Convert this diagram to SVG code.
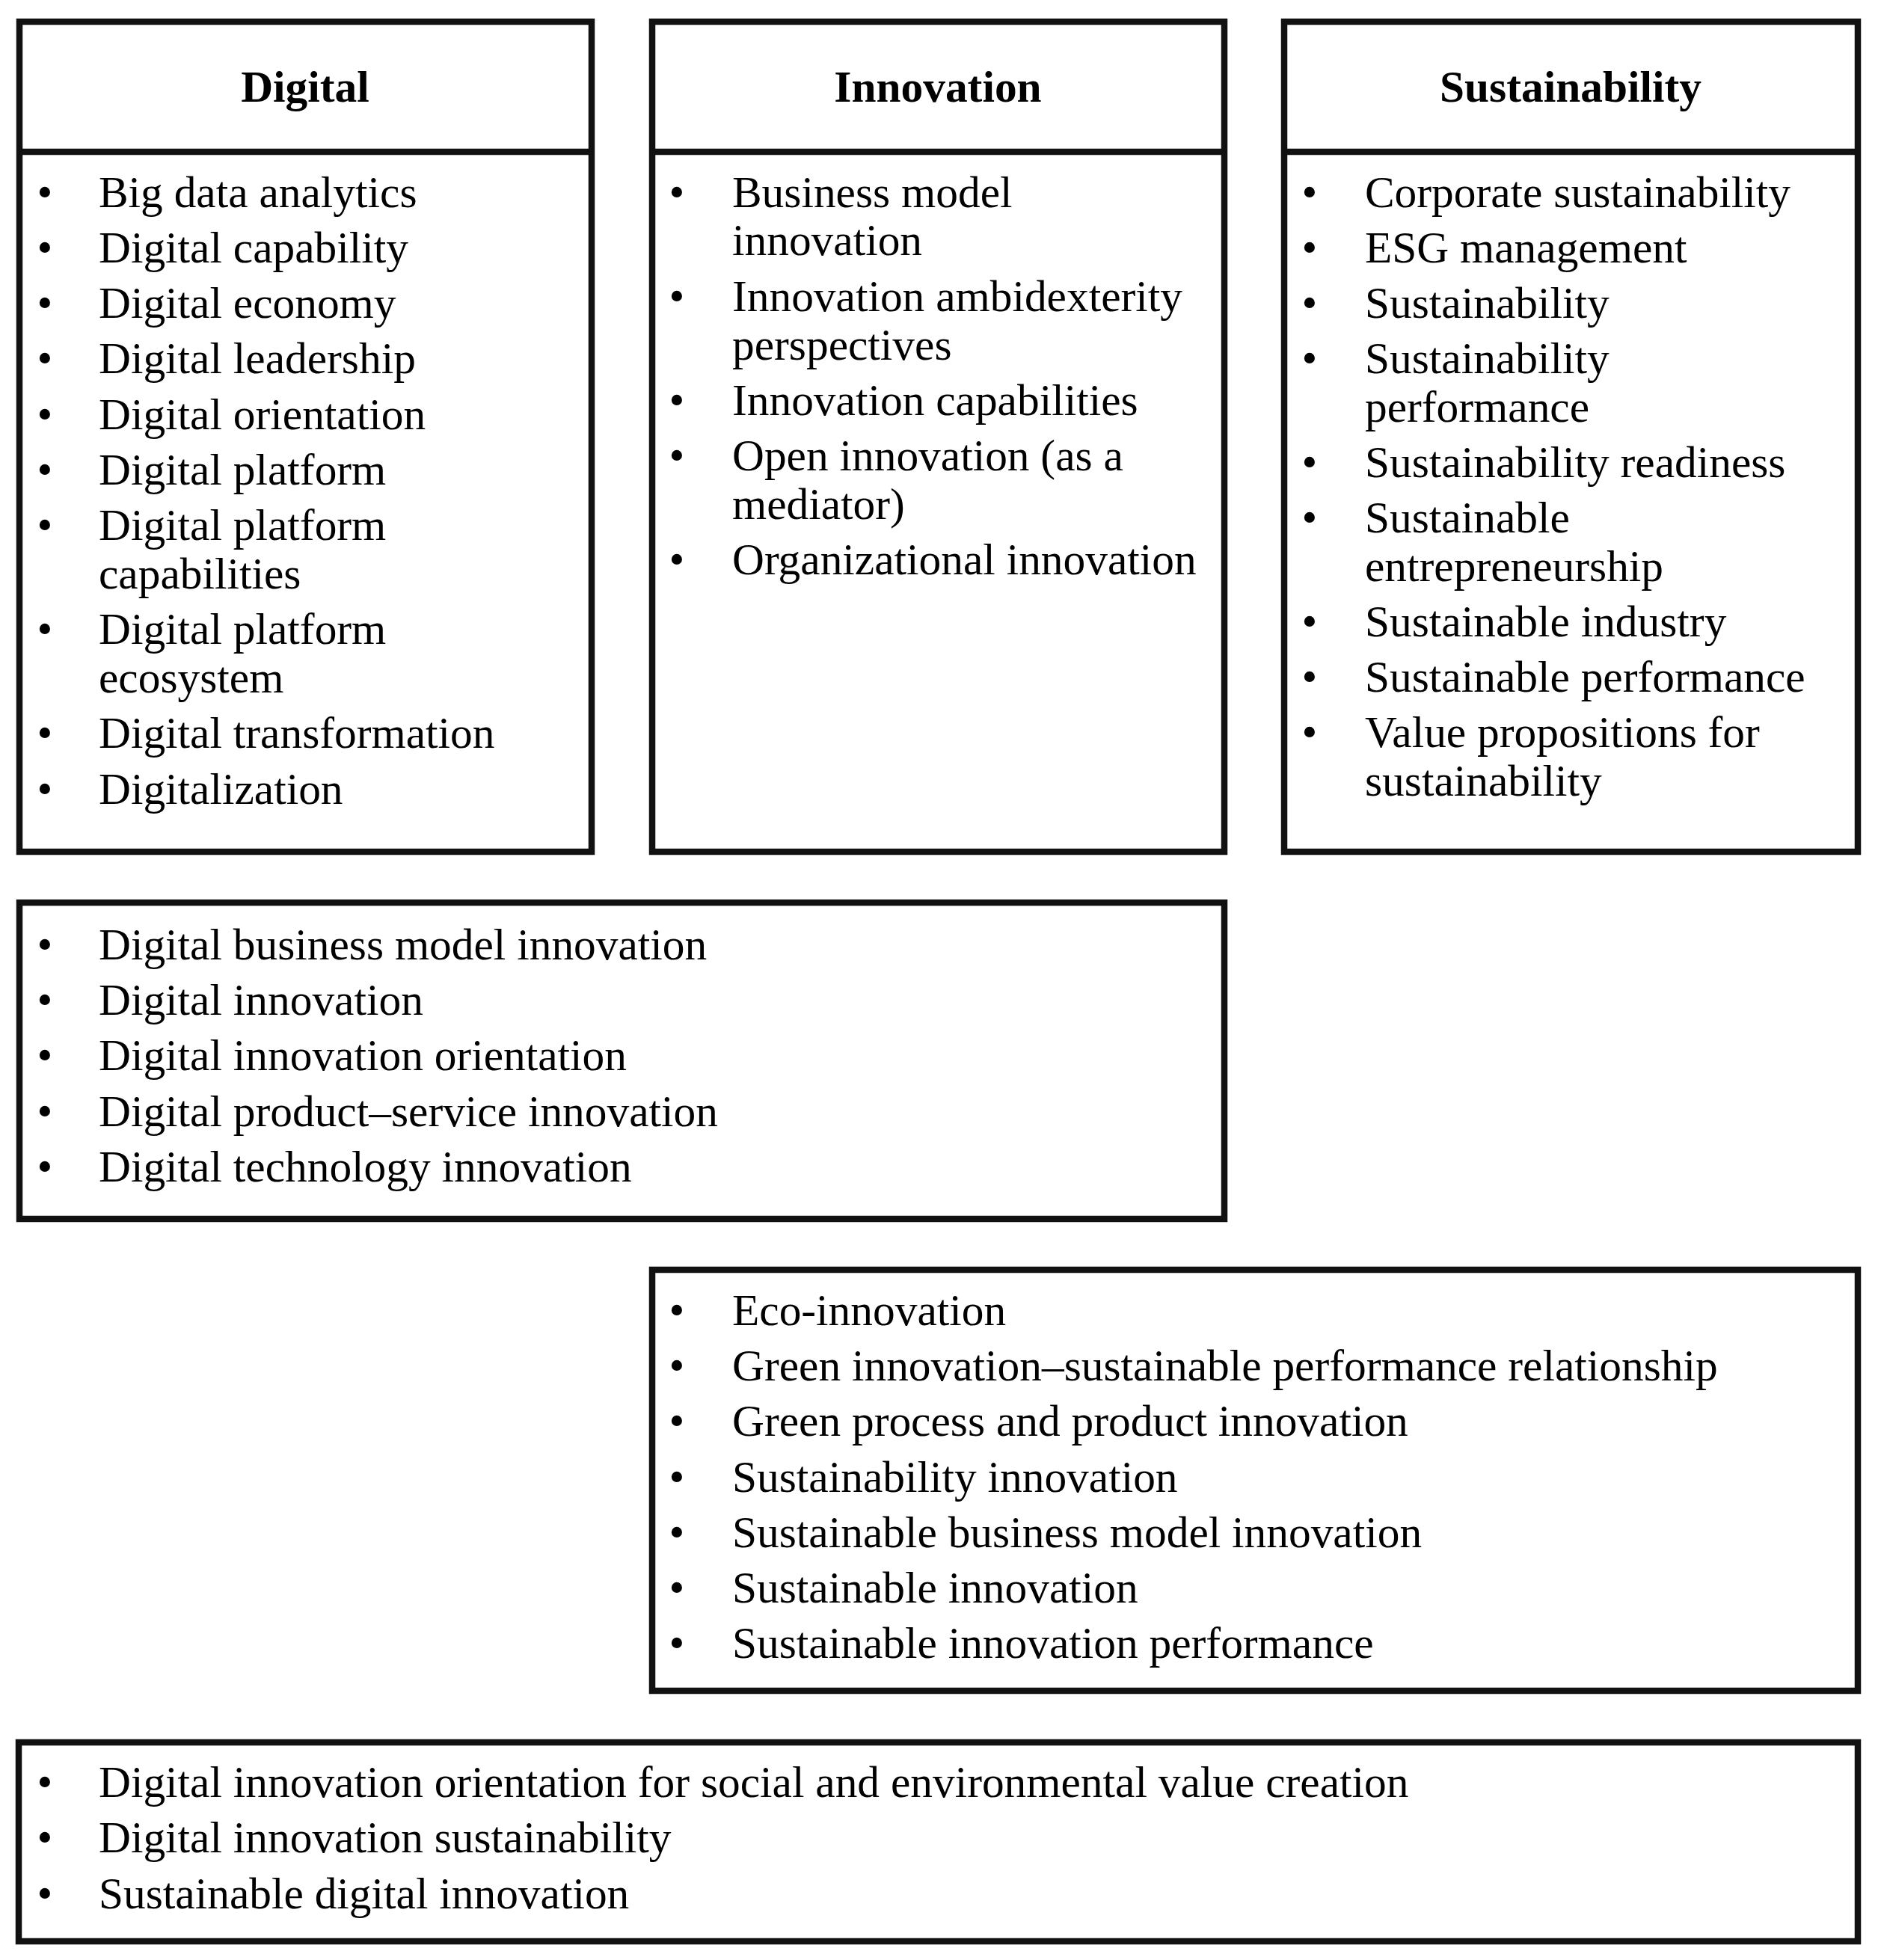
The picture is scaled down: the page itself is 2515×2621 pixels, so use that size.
<svg xmlns="http://www.w3.org/2000/svg" width="2515" height="2621" viewBox="0 0 2515 2621">
<style>
.box{fill:#fff;stroke:#111;stroke-width:8.5}
.div{stroke:#111;stroke-width:8.5}
.h{font-family:"Liberation Serif","Times New Roman",serif;font-size:59.4px;font-weight:bold;text-anchor:middle;fill:#000}
.t{font-family:"Liberation Serif","Times New Roman",serif;font-size:59.4px;fill:#000}
.b{font-family:"Liberation Serif","Times New Roman",serif;font-size:59.4px;fill:#000;text-anchor:middle}
</style>
<rect width="2515" height="2621" fill="#fff"/>
<g id="connectors"/>
<g id="digital">
<rect class="box" x="26" y="29" width="765" height="1110"/>
<line class="div" x1="26" y1="203" x2="791" y2="203"/>
<text class="h" x="408" y="136">Digital</text>
<text class="b" x="60" y="277">•</text><text class="t" x="132" y="277">Big data analytics</text>
<text class="b" x="60" y="351">•</text><text class="t" x="132" y="351">Digital capability</text>
<text class="b" x="60" y="425">•</text><text class="t" x="132" y="425">Digital economy</text>
<text class="b" x="60" y="499">•</text><text class="t" x="132" y="499">Digital leadership</text>
<text class="b" x="60" y="574">•</text><text class="t" x="132" y="574">Digital orientation</text>
<text class="b" x="60" y="648">•</text><text class="t" x="132" y="648">Digital platform</text>
<text class="b" x="60" y="722">•</text><text class="t" x="132" y="722">Digital platform</text>
<text class="t" x="132" y="787">capabilities</text>
<text class="b" x="60" y="861">•</text><text class="t" x="132" y="861">Digital platform</text>
<text class="t" x="132" y="926">ecosystem</text>
<text class="b" x="60" y="1000">•</text><text class="t" x="132" y="1000">Digital transformation</text>
<text class="b" x="60" y="1075">•</text><text class="t" x="132" y="1075">Digitalization</text>
</g>
<g id="innovation">
<rect class="box" x="872" y="29" width="765" height="1110"/>
<line class="div" x1="872" y1="203" x2="1637" y2="203"/>
<text class="h" x="1254" y="136">Innovation</text>
<text class="b" x="905" y="277">•</text><text class="t" x="979" y="277">Business model</text>
<text class="t" x="979" y="341">innovation</text>
<text class="b" x="905" y="416">•</text><text class="t" x="979" y="416">Innovation ambidexterity</text>
<text class="t" x="979" y="481">perspectives</text>
<text class="b" x="905" y="555">•</text><text class="t" x="979" y="555">Innovation capabilities</text>
<text class="b" x="905" y="629">•</text><text class="t" x="979" y="629">Open innovation (as a</text>
<text class="t" x="979" y="694">mediator)</text>
<text class="b" x="905" y="768">•</text><text class="t" x="979" y="768">Organizational innovation</text>
</g>
<g id="sustainability">
<rect class="box" x="1717" y="29" width="767" height="1110"/>
<line class="div" x1="1717" y1="203" x2="2484" y2="203"/>
<text class="h" x="2100" y="136">Sustainability</text>
<text class="b" x="1751" y="277">•</text><text class="t" x="1825" y="277">Corporate sustainability</text>
<text class="b" x="1751" y="351">•</text><text class="t" x="1825" y="351">ESG management</text>
<text class="b" x="1751" y="425">•</text><text class="t" x="1825" y="425">Sustainability</text>
<text class="b" x="1751" y="499">•</text><text class="t" x="1825" y="499">Sustainability</text>
<text class="t" x="1825" y="564">performance</text>
<text class="b" x="1751" y="638">•</text><text class="t" x="1825" y="638">Sustainability readiness</text>
<text class="b" x="1751" y="712">•</text><text class="t" x="1825" y="712">Sustainable</text>
<text class="t" x="1825" y="777">entrepreneurship</text>
<text class="b" x="1751" y="851">•</text><text class="t" x="1825" y="851">Sustainable industry</text>
<text class="b" x="1751" y="925">•</text><text class="t" x="1825" y="925">Sustainable performance</text>
<text class="b" x="1751" y="999">•</text><text class="t" x="1825" y="999">Value propositions for</text>
<text class="t" x="1825" y="1064">sustainability</text>
</g>
<g id="digital-innovation">
<rect class="box" x="26" y="1207" width="1611" height="423"/>
<text class="b" x="60" y="1283">•</text><text class="t" x="132" y="1283">Digital business model innovation</text>
<text class="b" x="60" y="1357">•</text><text class="t" x="132" y="1357">Digital innovation</text>
<text class="b" x="60" y="1431">•</text><text class="t" x="132" y="1431">Digital innovation orientation</text>
<text class="b" x="60" y="1506">•</text><text class="t" x="132" y="1506">Digital product–service innovation</text>
<text class="b" x="60" y="1580">•</text><text class="t" x="132" y="1580">Digital technology innovation</text>
</g>
<g id="sustainable-innovation">
<rect class="box" x="872" y="1698" width="1612" height="563"/>
<text class="b" x="905" y="1772">•</text><text class="t" x="979" y="1772">Eco-innovation</text>
<text class="b" x="905" y="1846">•</text><text class="t" x="979" y="1846">Green innovation–sustainable performance relationship</text>
<text class="b" x="905" y="1920">•</text><text class="t" x="979" y="1920">Green process and product innovation</text>
<text class="b" x="905" y="1995">•</text><text class="t" x="979" y="1995">Sustainability innovation</text>
<text class="b" x="905" y="2069">•</text><text class="t" x="979" y="2069">Sustainable business model innovation</text>
<text class="b" x="905" y="2143">•</text><text class="t" x="979" y="2143">Sustainable innovation</text>
<text class="b" x="905" y="2217">•</text><text class="t" x="979" y="2217">Sustainable innovation performance</text>
</g>
<g id="digital-sustainable-innovation">
<rect class="box" x="25" y="2330" width="2459" height="266"/>
<text class="b" x="60" y="2403">•</text><text class="t" x="132" y="2403">Digital innovation orientation for social and environmental value creation</text>
<text class="b" x="60" y="2477">•</text><text class="t" x="132" y="2477">Digital innovation sustainability</text>
<text class="b" x="60" y="2552">•</text><text class="t" x="132" y="2552">Sustainable digital innovation</text>
</g>
</svg>
